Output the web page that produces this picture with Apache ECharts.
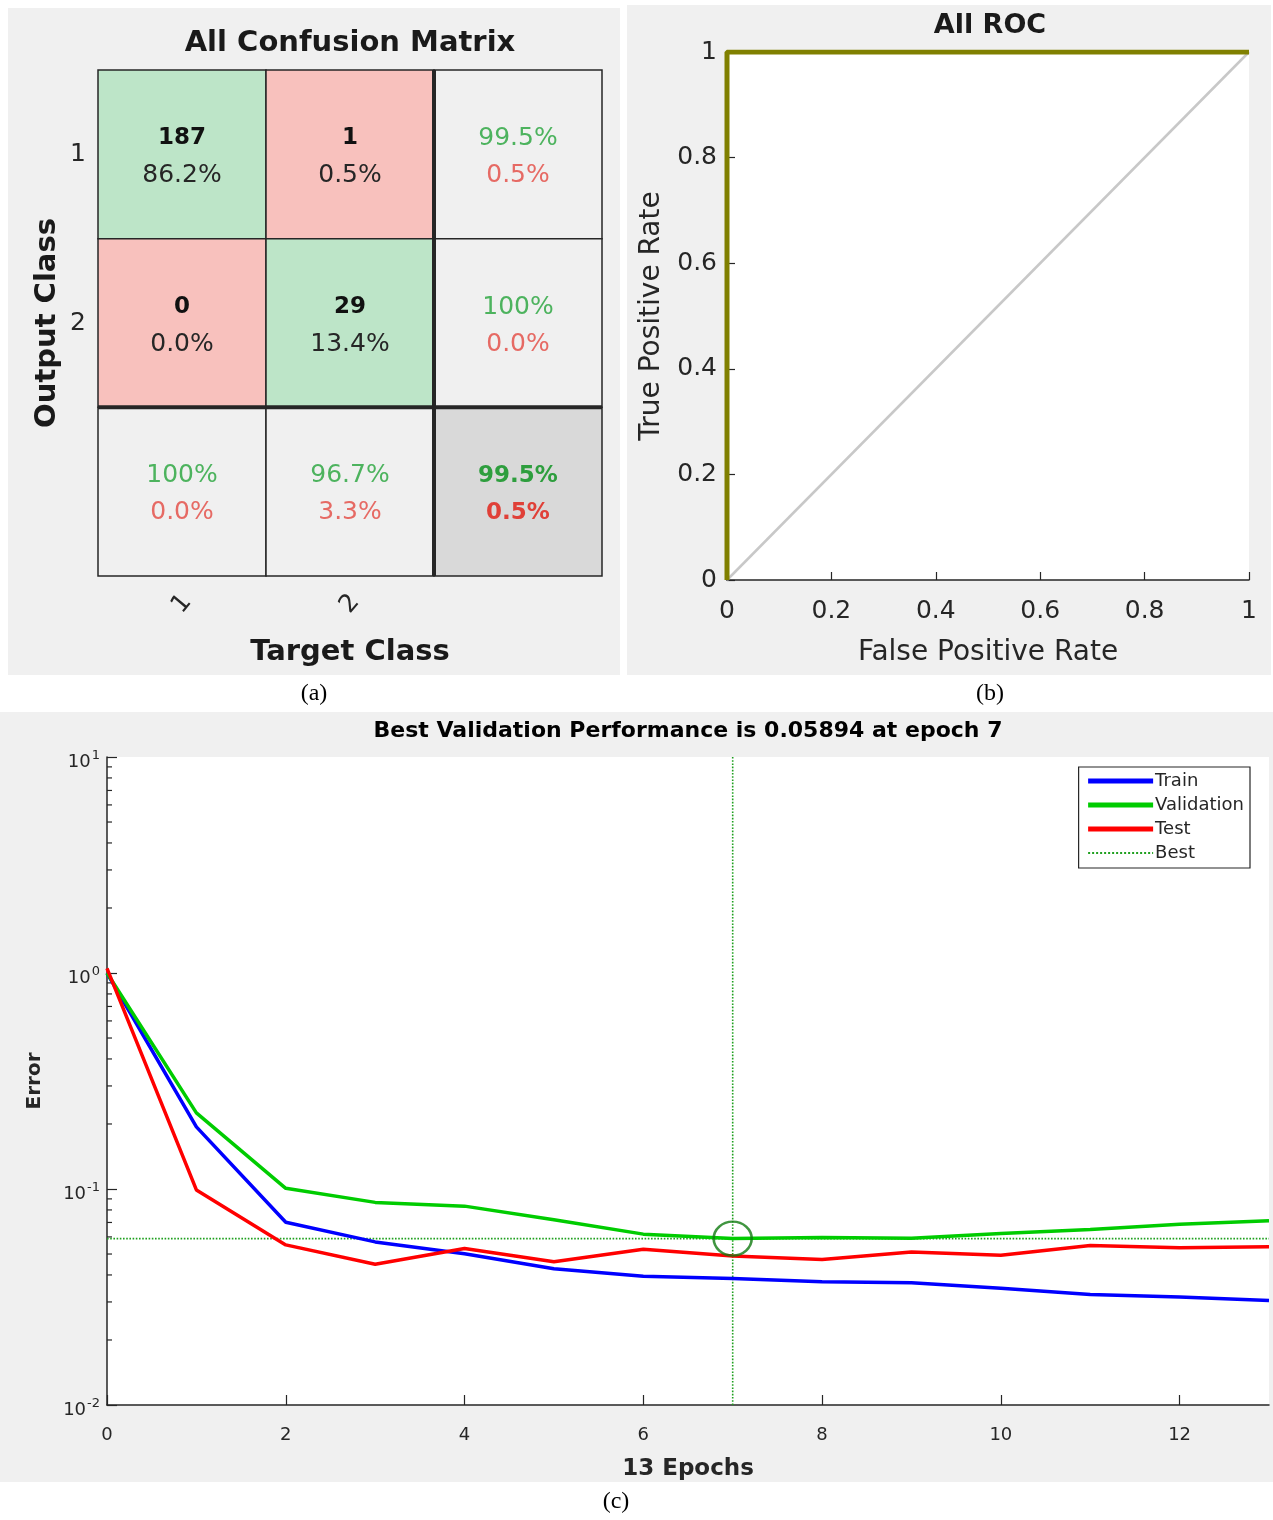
<!DOCTYPE html>
<html>
<head>
<meta charset="utf-8">
<script src="https://cdn.jsdelivr.net/npm/echarts@6/dist/echarts.min.js"></script>
<style>
  html, body { margin: 0; padding: 0; background: #fff; }
  #chart { width: 1273px; height: 1520px; }
</style>
</head>
<body>
<div id="chart"></div>
<script>
// ---- (a) confusion matrix ----
var cmClasses = ['1', '2'];
var cmCounts = [[187, 1], [0, 29]];
var cmCellPct = [['86.2%', '0.5%'], ['0.0%', '13.4%']];
var rowGoodPct = ['99.5%', '100%'];
var rowBadPct = ['0.5%', '0.0%'];
var colGoodPct = ['100%', '96.7%'];
var colBadPct = ['0.0%', '3.3%'];
var allPct = ['99.5%', '0.5%'];

// ---- (b) ROC ----
var rocFpr = [0, 0, 1];
var rocTpr = [0, 1, 1];
var diagFpr = [0, 1];
var diagTpr = [0, 1];

// ---- (c) training performance ----
var epochs = [0, 1, 2, 3, 4, 5, 6, 7, 8, 9, 10, 11, 12, 13];
var trainErr = [1.0, 0.194, 0.0702, 0.0569, 0.0501, 0.0427, 0.0395, 0.0385, 0.0372, 0.0368, 0.0347, 0.0325, 0.0316, 0.0305];
var validErr = [1.0, 0.225, 0.1007, 0.0867, 0.0833, 0.072, 0.0618, 0.05894, 0.0597, 0.0592, 0.0622, 0.0649, 0.0687, 0.0713];
var testErr = [1.05, 0.099, 0.0551, 0.0448, 0.053, 0.046, 0.0526, 0.049, 0.0472, 0.0511, 0.0493, 0.0547, 0.0535, 0.054];
var bestEpoch = 7;
var bestPerf = 0.05894;
var minorTickVals = [0.02, 0.03, 0.04, 0.05, 0.06, 0.07, 0.08, 0.09,
                     0.2, 0.3, 0.4, 0.5, 0.6, 0.7, 0.8, 0.9,
                     2, 3, 4, 5, 6, 7, 8, 9];

var FONT = 'DejaVu Sans';
var INK = '#262626';

// build the 3x3 cell list
var cmCells = [];
for (var r = 0; r < 3; r++) {
  for (var c = 0; c < 3; c++) {
    var cell = {col: c, row: r};
    if (r < 2 && c < 2) {
      cell.kind = r === c ? 'hit' : 'miss';
      cell.top = String(cmCounts[r][c]);
      cell.bottom = cmCellPct[r][c];
    } else if (r < 2) {
      cell.kind = 'sum'; cell.top = rowGoodPct[r]; cell.bottom = rowBadPct[r];
    } else if (c < 2) {
      cell.kind = 'sum'; cell.top = colGoodPct[c]; cell.bottom = colBadPct[c];
    } else {
      cell.kind = 'all'; cell.top = allPct[0]; cell.bottom = allPct[1];
    }
    cmCells.push(cell);
  }
}

var cellStyles = {
  hit:  {fill: '#bde5c8', topFont: 'bold 23px ' + FONT, topColor: '#111', botFont: '25px ' + FONT, botColor: INK},
  miss: {fill: '#f8c1bd', topFont: 'bold 23px ' + FONT, topColor: '#111', botFont: '25px ' + FONT, botColor: INK},
  sum:  {fill: '#f0f0f0', topFont: '25px ' + FONT, topColor: '#4db35e', botFont: '25px ' + FONT, botColor: '#e66a64'},
  all:  {fill: '#d9d9d9', topFont: 'bold 23px ' + FONT, topColor: '#2e9e3e', botFont: 'bold 23px ' + FONT, botColor: '#e04038'}
};

function renderCell(params, api) {
  var cell = cmCells[params.dataIndex];
  var st = cellStyles[cell.kind];
  var p = api.coord([api.value(0), api.value(1)]);
  var s = api.size([1, 1]);
  var x0 = p[0] - s[0] / 2, y0 = p[1] - s[1] / 2;
  var children = [
    {type: 'rect', shape: {x: x0, y: y0, width: s[0], height: s[1]},
     style: {fill: st.fill, stroke: INK, lineWidth: 1.5}},
    {type: 'text', style: {text: cell.top, x: p[0], y: p[1] - 16, align: 'center', verticalAlign: 'middle',
     font: st.topFont, fill: st.topColor}},
    {type: 'text', style: {text: cell.bottom, x: p[0], y: p[1] + 21, align: 'center', verticalAlign: 'middle',
     font: st.botFont, fill: st.botColor}}
  ];
  if (cell.col === 2) {
    children.push({type: 'line', shape: {x1: x0, y1: y0, x2: x0, y2: y0 + s[1]}, style: {stroke: INK, lineWidth: 4}, z2: 5});
  }
  if (cell.row === 2) {
    children.push({type: 'line', shape: {x1: x0, y1: y0, x2: x0 + s[0], y2: y0}, style: {stroke: INK, lineWidth: 4}, z2: 5});
  }
  return {type: 'group', children: children};
}

function renderMinorTick(params, api) {
  var p = api.coord([0, api.value(1)]);
  return {type: 'line', shape: {x1: p[0], y1: p[1], x2: p[0] + 5, y2: p[1]},
          style: {stroke: INK, lineWidth: 1.2}};
}

function pairs(xs, ys) {
  return xs.map(function (x, i) { return [x, ys[i]]; });
}

var chart = echarts.init(document.getElementById('chart'), null, {renderer: 'canvas', width: 1273, height: 1520});

chart.setOption({
  backgroundColor: '#fff',
  animation: false,
  textStyle: {fontFamily: FONT},
  graphic: [
    {type: 'rect', shape: {x: 8, y: 8, width: 612, height: 667}, style: {fill: '#f0f0f0'}, z: -10},
    {type: 'rect', shape: {x: 627, y: 5, width: 644, height: 670}, style: {fill: '#f0f0f0'}, z: -10},
    {type: 'rect', shape: {x: 0, y: 712, width: 1273, height: 770}, style: {fill: '#f0f0f0'}, z: -10},
    {type: 'text', x: 314, y: 694, style: {text: '(a)', font: '24px "Liberation Serif"', fill: '#000', align: 'center', verticalAlign: 'middle'}},
    {type: 'text', x: 990, y: 694, style: {text: '(b)', font: '24px "Liberation Serif"', fill: '#000', align: 'center', verticalAlign: 'middle'}},
    {type: 'text', x: 616, y: 1502, style: {text: '(c)', font: '24px "Liberation Serif"', fill: '#000', align: 'center', verticalAlign: 'middle'}}
  ],
  title: [
    {text: 'All Confusion Matrix', left: 350, top: 29, textAlign: 'center', padding: 0,
     textStyle: {fontSize: 29, fontWeight: 'bold', color: '#1a1a1a', fontFamily: FONT}},
    {text: 'All ROC', left: 990, top: 12, textAlign: 'center', padding: 0,
     textStyle: {fontSize: 27, fontWeight: 'bold', color: '#1a1a1a', fontFamily: FONT}},
    {text: 'Best Validation Performance is 0.05894 at epoch 7', left: 688, top: 720, textAlign: 'center', padding: 0,
     textStyle: {fontSize: 22, fontWeight: 'bold', color: '#000', fontFamily: FONT}}
  ],
  legend: {
    data: [
      {name: 'Train', lineStyle: {width: 5}},
      {name: 'Validation', lineStyle: {width: 5}},
      {name: 'Test', lineStyle: {width: 5}},
      {name: 'Best'}
    ],
    orient: 'vertical',
    right: 23,
    top: 767,
    backgroundColor: '#fff',
    borderColor: INK,
    borderWidth: 1.2,
    borderRadius: 0,
    padding: [5, 6, 6, 7],
    itemGap: 6,
    itemWidth: 65,
    itemHeight: 14,
    itemStyle: {opacity: 0},
    textStyle: {fontSize: 18, color: INK, fontFamily: FONT, padding: [0, 0, 0, -3]}
  },
  grid: [
    {left: 98, top: 70, width: 504, height: 506},
    {left: 727, top: 52, width: 522, height: 528, show: true, backgroundColor: '#fff', borderWidth: 0},
    {left: 107, top: 757, width: 1162, height: 648, show: true, backgroundColor: '#fff', borderWidth: 0}
  ],
  xAxis: [
    {
      gridIndex: 0, type: 'category', data: cmClasses.concat(['']),
      axisLine: {show: false}, axisTick: {show: false},
      axisLabel: {rotate: 50, fontSize: 25, color: INK, margin: 28, align: 'center', verticalAlign: 'middle'},
      name: 'Target Class', nameLocation: 'middle', nameGap: 62,
      nameTextStyle: {fontSize: 29, fontWeight: 'bold', color: '#1a1a1a'}
    },
    {
      gridIndex: 1, type: 'value', min: 0, max: 1, interval: 0.2,
      axisLine: {lineStyle: {color: INK, width: 1.5}},
      axisTick: {inside: true, length: 8, lineStyle: {color: INK, width: 1.2}},
      axisLabel: {fontSize: 25, color: INK, margin: 19},
      splitLine: {show: false},
      name: 'False Positive Rate', nameLocation: 'middle', nameGap: 59,
      nameTextStyle: {fontSize: 28, color: INK}
    },
    {
      gridIndex: 2, type: 'value', min: 0, max: 13, interval: 2,
      axisLine: {lineStyle: {color: INK, width: 1.5}},
      axisTick: {inside: true, length: 10, lineStyle: {color: INK, width: 1.2}},
      axisLabel: {fontSize: 18, color: INK, margin: 21, showMaxLabel: false},
      splitLine: {show: false},
      name: '13 Epochs', nameLocation: 'middle', nameGap: 53,
      nameTextStyle: {fontSize: 23, fontWeight: 'bold', color: INK}
    }
  ],
  yAxis: [
    {
      gridIndex: 0, type: 'category', data: cmClasses.concat(['']), inverse: true,
      axisLine: {show: false}, axisTick: {show: false},
      axisLabel: {fontSize: 25, color: INK, margin: 12},
      name: 'Output Class', nameLocation: 'middle', nameGap: 36, nameRotate: 90,
      nameTextStyle: {fontSize: 29, fontWeight: 'bold', color: '#1a1a1a'}
    },
    {
      gridIndex: 1, type: 'value', min: 0, max: 1, interval: 0.2,
      axisLine: {lineStyle: {color: INK, width: 1.5}},
      axisTick: {inside: true, length: 8, lineStyle: {color: INK, width: 1.2}},
      axisLabel: {fontSize: 25, color: INK, margin: 10},
      splitLine: {show: false},
      name: 'True Positive Rate', nameLocation: 'middle', nameGap: 61, nameRotate: 90,
      nameTextStyle: {fontSize: 28, color: INK}
    },
    {
      gridIndex: 2, type: 'log', logBase: 10, min: 0.01, max: 10,
      axisLine: {lineStyle: {color: INK, width: 1.5}},
      axisTick: {inside: true, length: 10, lineStyle: {color: INK, width: 1.2}},
      axisLabel: {
        margin: 7,
        padding: [6, 0, 0, 0],
        formatter: function (v) {
          return '{b|10}{s|' + Math.round(Math.log10(v)) + '}';
        },
        rich: {
          b: {fontSize: 18, color: INK, verticalAlign: 'bottom', fontFamily: FONT},
          s: {fontSize: 13, color: INK, verticalAlign: 'bottom', padding: [0, 0, 9, 1], fontFamily: FONT}
        }
      },
      splitLine: {show: false},
      name: 'Error', nameLocation: 'middle', nameGap: 62, nameRotate: 90,
      nameTextStyle: {fontSize: 20, fontWeight: 'bold', color: INK}
    }
  ],
  series: [
    {
      name: 'confusion', type: 'custom', xAxisIndex: 0, yAxisIndex: 0,
      renderItem: renderCell,
      data: cmCells.map(function (d) { return [d.col, d.row]; }),
      silent: true
    },
    {
      name: 'chance', type: 'line', xAxisIndex: 1, yAxisIndex: 1,
      data: pairs(diagFpr, diagTpr), symbol: 'none',
      lineStyle: {color: '#c8c8c8', width: 2.5}, z: 2
    },
    {
      name: 'roc', type: 'line', xAxisIndex: 1, yAxisIndex: 1,
      data: pairs(rocFpr, rocTpr), symbol: 'none',
      lineStyle: {color: '#808000', width: 5}, z: 3
    },
    {
      name: 'minor', type: 'custom', xAxisIndex: 2, yAxisIndex: 2,
      renderItem: renderMinorTick, silent: true,
      data: minorTickVals.map(function (v) { return [0, v]; })
    },
    {
      name: 'Best', type: 'line', xAxisIndex: 2, yAxisIndex: 2,
      data: [[bestEpoch, 0.01], [bestEpoch, 10]], symbol: 'none',
      lineStyle: {color: '#1fa01f', width: 1.6, type: 'dotted'}, itemStyle: {color: '#1fa01f'}, z: 2
    },
    {
      name: 'Best', type: 'line', xAxisIndex: 2, yAxisIndex: 2,
      data: [[0, bestPerf], [13, bestPerf]], symbol: 'none',
      lineStyle: {color: '#1fa01f', width: 1.6, type: 'dotted'}, itemStyle: {color: '#1fa01f'}, z: 2
    },
    {
      name: 'Train', type: 'line', xAxisIndex: 2, yAxisIndex: 2,
      data: pairs(epochs, trainErr), symbol: 'none',
      lineStyle: {color: '#0000ff', width: 3.5}, itemStyle: {color: '#0000ff'}, z: 3
    },
    {
      name: 'Validation', type: 'line', xAxisIndex: 2, yAxisIndex: 2,
      data: pairs(epochs, validErr), symbol: 'none',
      lineStyle: {color: '#00cc00', width: 3.5}, itemStyle: {color: '#00cc00'}, z: 3
    },
    {
      name: 'Test', type: 'line', xAxisIndex: 2, yAxisIndex: 2,
      data: pairs(epochs, testErr), symbol: 'none',
      lineStyle: {color: '#ff0000', width: 3.5}, itemStyle: {color: '#ff0000'}, z: 3
    },
    {
      name: 'bestPoint', type: 'scatter', xAxisIndex: 2, yAxisIndex: 2,
      data: [[bestEpoch, bestPerf]], symbol: 'circle', symbolSize: [38, 34],
      itemStyle: {color: 'rgba(0,0,0,0)', borderColor: '#107a10', borderWidth: 2.5}, z: 5
    }
  ]
});
</script>
</body>
</html>
